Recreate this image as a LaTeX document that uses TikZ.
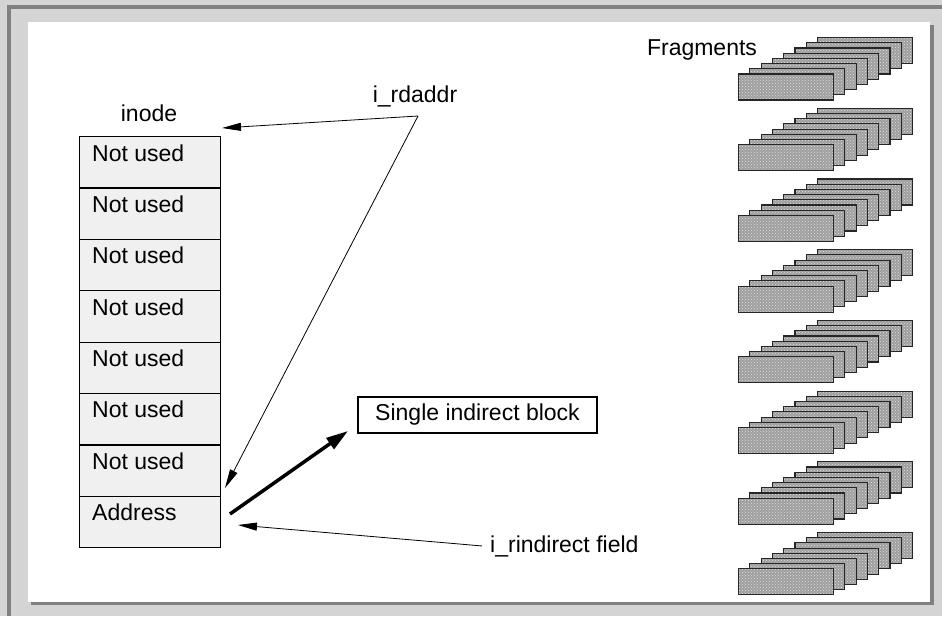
\documentclass[tikz,border=0pt]{standalone}
\usepackage{fontspec}
\setmainfont{Liberation Sans}
\usetikzlibrary{arrows.meta,patterns}
\definecolor{panelgray}{gray}{0.83}
\definecolor{edgegray}{gray}{0.5}
\definecolor{cellgray}{gray}{0.94}
\definecolor{slabgray}{gray}{0.62}
\begin{document}
\begin{tikzpicture}[x=1pt,y=-1pt,>={Triangle[length=19pt,width=8pt]},
  txt/.style={inner sep=0pt,font=\fontsize{23}{27}\selectfont},
  cell/.style={draw,line width=1.3pt,fill=cellgray,anchor=north west,inner sep=0pt,
    minimum width=141pt,minimum height=51.4pt},
  slab/.style={draw=black!85,line width=1.1pt,preaction={fill=slabgray},
    pattern=crosshatch dots,pattern color=black!12,anchor=north west,inner sep=0pt,
    minimum width=95pt,minimum height=26pt}]
% window
\fill[panelgray] (0,0) rectangle (942,616);
\fill[edgegray] (7,5) rectangle (942,9);
\fill[edgegray] (7,5) rectangle (11,616);
\fill[edgegray] (31,25) rectangle (934,605);
\fill[white] (28,22) rectangle (930,602);
\useasboundingbox (0,0) rectangle (942,616);

% fragment stacks, back slab first
\foreach \k in {0,...,7}
  \foreach \j in {0,...,7}
    \node[slab] (f\k\j) at (817-11.3*\j,37+70.7*\k+5.2*\j) {};
\node[txt,anchor=base] (frag) at (702,55) {Fragments};

% inode table
\node[txt,anchor=base] (inode) at (149,121) {inode};
\foreach \i in {1,...,7}{
  \node[cell] (c\i) at (79,136+51.375*\i-51.375) {};
  \node[txt,anchor=base west] (t\i) at ([shift={(13,25)}]c\i.north west) {Not used};
}
\node[cell] (c8) at (79,495.6) {};
\node[txt,anchor=base west] (t8) at ([shift={(13,25)}]c8.north west) {Address};

\node[txt,draw,line width=1.3pt,minimum width=239pt,minimum height=36pt] (sib) at (477.5,415) {Single indirect block};

\node[txt,anchor=base] (rd) at (415,102) {i\_rdaddr};
\node[txt,anchor=base west] (ri) at (490,552) {i\_rindirect field};

\coordinate (rdfork) at (418,116);
\coordinate (toptip) at (222,128);
\coordinate (addrtip) at (225,488);
\coordinate (addrtail) at (230,514);
\coordinate (sibtip) at (348,431);
\coordinate (ritip) at (238,525);

\draw[->,line width=0.8pt] (rdfork) -- (toptip);
\draw[->,line width=0.8pt] (rdfork) -- (addrtip);
\draw[-{Triangle[length=22pt,width=13pt]},line width=3.5pt] (addrtail) -- (sibtip);
\draw[->,line width=0.8pt] ([xshift=-8pt]ri.west) -- (ritip);
\end{tikzpicture}
\end{document}
